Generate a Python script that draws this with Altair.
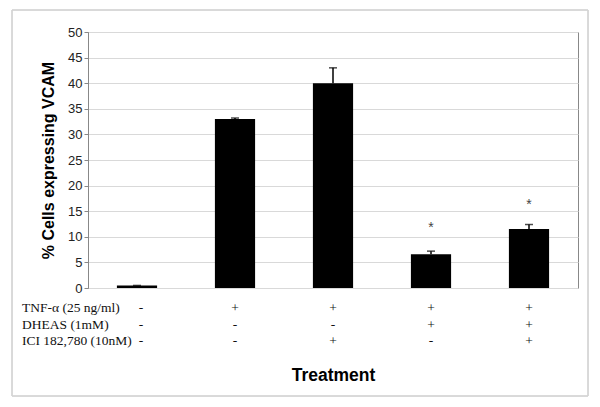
import altair as alt
import pandas as pd

groups = ["G1", "G2", "G3", "G4", "G5"]
values = [0.5, 33.0, 40.0, 6.6, 11.5]
err_top = [0.5, 33.2, 43.0, 7.2, 12.4]
stars = ["", "", "", "*", "*"]
star_pos = [None, None, None, 11.7, 16.2]

row_names = ["TNF-α (25 ng/ml)", "DHEAS (1mM)", "ICI 182,780 (10nM)"]
row_marks = [
    ["-", "+", "+", "+", "+"],
    ["-", "-", "-", "+", "+"],
    ["-", "-", "+", "-", "+"],
]
y_ticks = [0, 5, 10, 15, 20, 25, 30, 35, 40, 45, 50]

bars = pd.DataFrame({"g": groups, "v": values, "e": err_top})
star_df = pd.DataFrame({"g": groups, "s": stars, "p": star_pos}).dropna()
table = pd.DataFrame(
    [{"g": groups[j], "row": i, "m": row_marks[i][j]} for i in range(3) for j in range(5)]
)
labels = pd.DataFrame({"row": list(range(3)), "name": row_names})

x_scale = alt.Scale(paddingInner=0.59, paddingOuter=0.295)
x_axis = alt.Axis(
    title="Treatment", labels=False, ticks=False, domain=False,
    titleFont="Liberation Sans", titleFontSize=17.5, titleFontWeight="bold",
    titleColor="black", titlePadding=78,
)
y_scale = alt.Scale(domain=[0, 50])
y_axis = alt.Axis(
    title="% Cells expressing VCAM", values=y_ticks,
    labelFont="Liberation Sans", labelFontSize=13, labelColor="#222",
    tickColor="#888", tickSize=4, domainColor="#888",
    gridColor="#d9d9d9", titleFont="Liberation Sans", titleFontSize=16,
    titleFontWeight="bold", titleColor="black", titlePadding=11,
)


def X():
    return alt.X("g:N", sort=groups, scale=x_scale, axis=x_axis)


def Y(field):
    return alt.Y(field, scale=y_scale, axis=y_axis)


base = alt.Chart(bars)
bar_layer = base.mark_bar(color="black").encode(x=X(), y=Y("v:Q"))
rule_layer = base.mark_rule(color="black", strokeWidth=1.5).encode(
    x=X(), y=Y("v:Q"), y2="e:Q"
)
cap_layer = base.mark_tick(color="black", orient="horizontal", size=8, thickness=1.5).encode(
    x=X(), y=Y("e:Q")
)
star_layer = alt.Chart(star_df).mark_text(
    font="Liberation Sans", fontSize=14, color="#444", baseline="middle"
).encode(x=X(), y=Y("p:Q"), text="s:N")

row_y = [276, 292.5, 309]
layers = [bar_layer, rule_layer, cap_layer, star_layer]
for i in range(3):
    for first in (True, False):
        cond = f"datum.row == {i} && datum.g {'==' if first else '!='} 'G1'"
        layers.append(
            alt.Chart(table).transform_filter(cond).mark_text(
                font="Liberation Serif", fontSize=13.5, color="#111",
                baseline="middle", dx=4 if first else 0,
            ).encode(x=X(), y=alt.value(row_y[i]), text="m:N")
        )
    layers.append(
        alt.Chart(labels).transform_filter(f"datum.row == {i}").mark_text(
            font="Liberation Serif", fontSize=13.5, color="#111",
            align="left", baseline="middle",
        ).encode(x=alt.value(-66), y=alt.value(row_y[i]), text="name:N")
    )

frame = alt.Chart(labels).mark_rect(fill=None, stroke="#d4d4d4", strokeWidth=1).encode(
    x=alt.value(-76), x2=alt.value(500), y=alt.value(-22), y2=alt.value(364)
)

chart = alt.layer(frame, *layers).properties(
    width=490, height=256,
    autosize=alt.AutoSizeParams(type="none"),
    padding={"left": 80, "top": 24, "right": 14, "bottom": 111},
    background="white",
).configure_view(stroke="#888", strokeWidth=1)

chart.save("out.html", embed_options={"renderer": "svg", "actions": False})
